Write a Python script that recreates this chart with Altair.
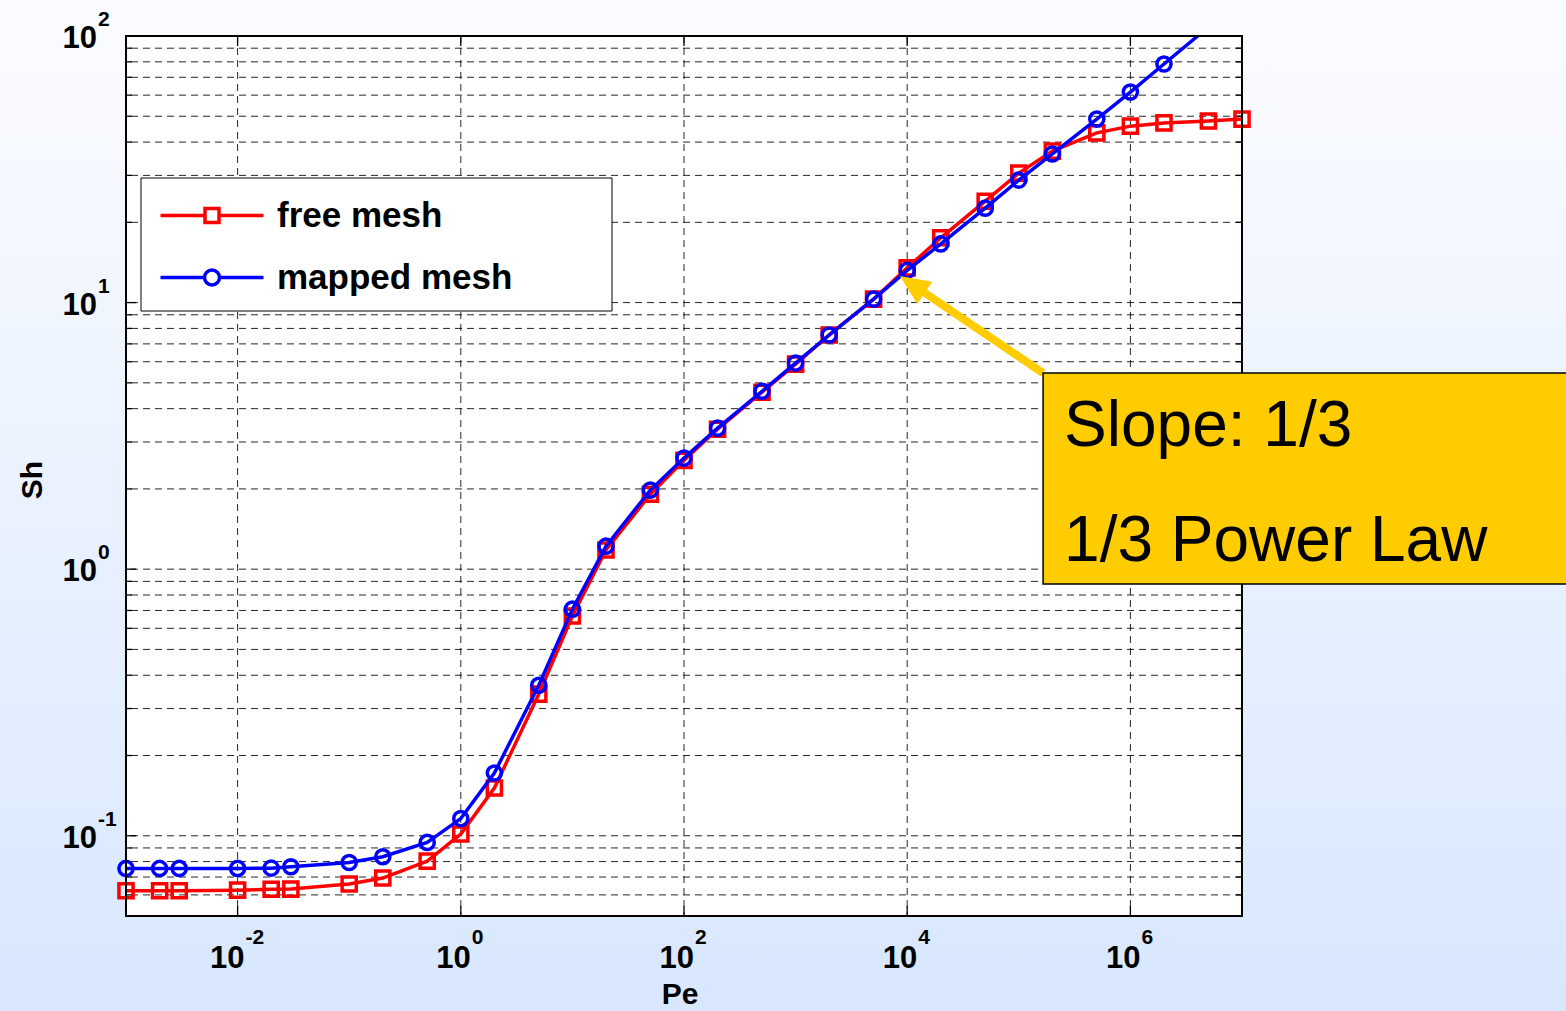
import altair as alt
import pandas as pd

# ---------------- data ----------------
pe = [1e-3, 2e-3, 3e-3, 1e-2, 2e-2, 3e-2, 0.1, 0.2, 0.5, 1, 2, 5, 10, 20, 50,
      100, 200, 500, 1e3, 2e3, 5e3, 1e4, 2e4, 5e4, 1e5, 2e5, 5e5, 1e6, 2e6, 5e6, 1e7]
sh_free = [0.0622, 0.0622, 0.0622, 0.0625, 0.0630, 0.0631, 0.0659, 0.0694, 0.0803, 0.1015,
           0.151, 0.34, 0.667, 1.18, 1.91, 2.56, 3.35, 4.61, 5.88, 7.56, 10.3, 13.5, 17.5,
           24.0, 30.6, 37.0, 43.3, 45.9, 47.2, 48.0, 48.8]
sh_mapped = [0.0754, 0.0754, 0.0754, 0.0754, 0.0756, 0.0765, 0.0794, 0.0834, 0.0944, 0.116,
             0.172, 0.367, 0.708, 1.22, 1.98, 2.61, 3.38, 4.65, 5.93, 7.56, 10.3, 13.2, 16.6,
             22.6, 28.8, 36.1, 48.8, 61.6, 78.5, 108.0]
series_names = ["free mesh", "mapped mesh"]
series_colors = ["#ff0000", "#0000ff"]
series_shapes = ["square", "circle"]

x_label_exps = [-2, 0, 2, 4, 6]
y_label_exps = [-1, 0, 1, 2]
x_grid_exps = [-2, 0, 2, 4, 6]
y_decades = [-2, -1, 0, 1, 2]
minor_mults = [1, 2, 3, 4, 5, 6, 7, 8, 9]
y_major = [0.1, 1, 10]

x_title = "Pe"
y_title = "Sh"
ann_text = ["Slope: 1/3\n1/3 Power Law"]
ann_box_x = [1.65e5]
ann_box_top = [5.44]
ann_box_bottom = [0.879]
arrow_tail_x = [1.65e5]
arrow_tail_y = [5.44]
arrow_neck_x = [10570]
arrow_neck_y = [11.87]
arrow_tip_x = [8610]
arrow_tip_y = [12.57]

# ---------------- layout constants ----------------
W, H = 1116, 880
PAD = {"left": 126, "top": 36, "right": 324, "bottom": 95}
FONT = "Liberation Sans"
GOLD = "#ffcc00"
LW = 3.5

xscale = alt.Scale(type="log", domain=[1e-3, 1e7], nice=False)
yscale = alt.Scale(type="log", domain=[0.05, 100], nice=False)
cscale = alt.Scale(domain=series_names, range=series_colors)

rows = []
for p, s in zip(pe, sh_free):
    rows.append({"series": series_names[0], "pe": p, "sh": s})
for p, s in zip(pe, sh_mapped):
    rows.append({"series": series_names[1], "pe": p, "sh": s})
df = pd.DataFrame(rows)

one = pd.DataFrame({"k": [0]})

# legend symbols: line + hollow marker (unit = sqrt(symbolSize)/2 px)
SQ = "M-5.15,0H-0.7M0.7,0H5.15M-0.7,-0.7H0.7V0.7H-0.7Z"
CI = "M-5.15,0H-0.75M0.75,0H5.15M-0.75,0A0.75,0.75,0,1,1,0.75,0A0.75,0.75,0,1,1,-0.75,0Z"
sscale = alt.Scale(domain=series_names, range=[SQ, CI])

legend = alt.Legend(
    title=None, orient="none", legendX=68.5, legendY=162, padding=0,
    labelFont=FONT, labelFontSize=35, labelFontWeight="bold", labelColor="black",
    labelOffset=47.5, labelLimit=1000, symbolSize=400, symbolStrokeWidth=LW,
    symbolOpacity=1, symbolFillColor="transparent", rowPadding=26,
)

X = alt.X("pe:Q", scale=xscale, axis=None)
Y = alt.Y("sh:Q", scale=yscale, axis=None)
C = alt.Color("series:N", scale=cscale, legend=legend)
S = alt.Shape("series:N", scale=sscale, legend=legend)

# background gradient over whole canvas
bg = alt.Chart(one).mark_rect(
    fill=alt.Gradient(gradient="linear",
                      stops=[alt.GradientStop(color="#fbfcff", offset=0),
                             alt.GradientStop(color="#d8e7fe", offset=1)],
                      x1=0, x2=0, y1=0, y2=1)
).encode(x=alt.value(-PAD["left"]), x2=alt.value(W + PAD["right"]),
         y=alt.value(-PAD["top"]), y2=alt.value(H + PAD["bottom"]))

plot_bg = alt.Chart(one).mark_rect(fill="white").encode(
    x=alt.value(0), x2=alt.value(W), y=alt.value(0), y2=alt.value(H))

# grid
vgrid_df = pd.DataFrame({"v": [10.0 ** e for e in x_grid_exps]})
hvals = [m * 10.0 ** d for d in y_decades for m in minor_mults if 0.0501 < m * 10.0 ** d < 99.9]
hgrid_df = pd.DataFrame({"v": hvals})
grid_style = dict(color="#000000", strokeWidth=1, strokeDash=[7, 5], opacity=0.85)
vgrid = alt.Chart(vgrid_df).mark_rule(**grid_style).encode(x=alt.X("v:Q", scale=xscale, axis=None))
hgrid = alt.Chart(hgrid_df).mark_rule(**grid_style).encode(y=alt.Y("v:Q", scale=yscale, axis=None))

# ticks
ymaj_df = pd.DataFrame({"v": y_major})
ymin_df = pd.DataFrame({"v": [v for v in hvals if all(abs(v - m) > 1e-9 for m in y_major)]})
tick_style = dict(color="black", strokeWidth=1.3)
YT = alt.Y("v:Q", scale=yscale, axis=None)
XT = alt.X("v:Q", scale=xscale, axis=None)
ticks = [
    alt.Chart(ymaj_df).mark_rule(**tick_style).encode(y=YT, x=alt.value(0), x2=alt.value(10)),
    alt.Chart(ymaj_df).mark_rule(**tick_style).encode(y=YT, x=alt.value(W), x2=alt.value(W - 10)),
    alt.Chart(ymin_df).mark_rule(**tick_style).encode(y=YT, x=alt.value(0), x2=alt.value(6)),
    alt.Chart(ymin_df).mark_rule(**tick_style).encode(y=YT, x=alt.value(W), x2=alt.value(W - 6)),
    alt.Chart(vgrid_df).mark_rule(**tick_style).encode(x=XT, y=alt.value(H), y2=alt.value(H - 10)),
    alt.Chart(vgrid_df).mark_rule(**tick_style).encode(x=XT, y=alt.value(0), y2=alt.value(10)),
]

legend_box = alt.Chart(one).mark_rect(fill="white", stroke="black", strokeWidth=1).encode(
    x=alt.value(15), x2=alt.value(486), y=alt.value(142), y2=alt.value(275))

data_layers = []
for name, shp in zip(series_names, series_shapes):
    base = alt.Chart(df).transform_filter(alt.datum.series == name)
    data_layers.append(base.mark_line(strokeWidth=LW, clip=True).encode(x=X, y=Y, color=C))
    data_layers.append(
        base.transform_filter("datum.sh <= 100").mark_point(
            shape=shp, filled=False, size=200, strokeWidth=LW, opacity=1
        ).encode(x=X, y=Y, color=C))

# empty layer that only carries the legend (line + marker symbols)
legend_layer = alt.Chart(df).transform_filter("false").mark_point(
    filled=False, strokeWidth=LW, opacity=1
).encode(x=X, y=Y, color=C, shape=S)

frame = alt.Chart(one).mark_rect(fill="transparent", stroke="black", strokeWidth=2).encode(
    x=alt.value(0), x2=alt.value(W), y=alt.value(0), y2=alt.value(H))

# annotation
arrow_df = pd.DataFrame({"x0": arrow_tail_x, "y0": arrow_tail_y, "x1": arrow_neck_x, "y1": arrow_neck_y})
shaft = alt.Chart(arrow_df).mark_rule(color=GOLD, strokeWidth=8).encode(
    x=alt.X("x0:Q", scale=xscale, axis=None), y=alt.Y("y0:Q", scale=yscale, axis=None),
    x2="x1:Q", y2="y1:Q")
tip_df = pd.DataFrame({"x": arrow_tip_x, "y": arrow_tip_y})
head = alt.Chart(tip_df).mark_point(
    shape="M0,0L-0.45,1L0.45,1Z", filled=True, size=3600, angle=304, color=GOLD,
    opacity=1, strokeWidth=0
).encode(x=alt.X("x:Q", scale=xscale, axis=None), y=alt.Y("y:Q", scale=yscale, axis=None))
box_df = pd.DataFrame({"x0": ann_box_x, "y0": ann_box_top, "y1": ann_box_bottom, "t": ann_text})
box = alt.Chart(box_df).mark_rect(fill=GOLD, stroke="black", strokeWidth=1.5).encode(
    x=alt.X("x0:Q", scale=xscale, axis=None), x2=alt.value(W + 450),
    y=alt.Y("y0:Q", scale=yscale, axis=None), y2="y1:Q")
box_text = alt.Chart(box_df).mark_text(
    align="left", baseline="alphabetic", font=FONT, fontSize=64, lineBreak="\n",
    lineHeight=115, color="black", dx=21, dy=73
).encode(x=alt.X("x0:Q", scale=xscale, axis=None), y=alt.Y("y0:Q", scale=yscale, axis=None),
         text="t:N")

# tick labels
xl_df = pd.DataFrame({"v": [10.0 ** e for e in x_label_exps], "sup": [str(e) for e in x_label_exps],
                      "neg": [e < 0 for e in x_label_exps]})
yl_df = pd.DataFrame({"v": [10.0 ** e for e in y_label_exps], "sup": [str(e) for e in y_label_exps]})
big = dict(font=FONT, fontSize=31, fontWeight="bold", color="black", baseline="alphabetic")
small = dict(font=FONT, fontSize=21, fontWeight="bold", color="black", baseline="alphabetic")
labels = []
for neg, dx in [(True, 7), (False, 10)]:
    b = alt.Chart(xl_df).transform_filter(alt.datum.neg == neg)
    labels.append(b.mark_text(align="right", dx=dx, text="10", **big).encode(
        x=XT, y=alt.value(H + 52)))
    labels.append(b.mark_text(align="left", dx=dx + 1, **small).encode(
        x=XT, y=alt.value(H + 28), text="sup:N"))
labels.append(alt.Chart(yl_df).mark_text(align="right", dy=12, text="10", **big).encode(
    y=YT, x=alt.value(-29)))
labels.append(alt.Chart(yl_df).mark_text(align="left", dy=-10, **small).encode(
    y=YT, x=alt.value(-28), text="sup:N"))

titles = [
    alt.Chart(one).mark_text(text=x_title, font=FONT, fontSize=30, fontWeight="bold", color="black",
                             align="center", baseline="alphabetic").encode(
        x=alt.value(W / 2 - 4), y=alt.value(H + 88)),
    alt.Chart(one).mark_text(text=y_title, font=FONT, fontSize=30, fontWeight="bold", color="black",
                             align="center", baseline="alphabetic", angle=270).encode(
        x=alt.value(-84), y=alt.value(H / 2 + 4)),
]

chart = alt.layer(
    bg, plot_bg, vgrid, hgrid, *ticks, legend_box, *data_layers, legend_layer, frame,
    shaft, head, box, box_text, *labels, *titles
).properties(
    width=W, height=H,
    autosize=alt.AutoSizeParams(type="none"),
    padding=PAD,
    background="white",
).configure_view(stroke="transparent", strokeWidth=0)

chart.save("out.html", embed_options={"renderer": "svg", "actions": False})
